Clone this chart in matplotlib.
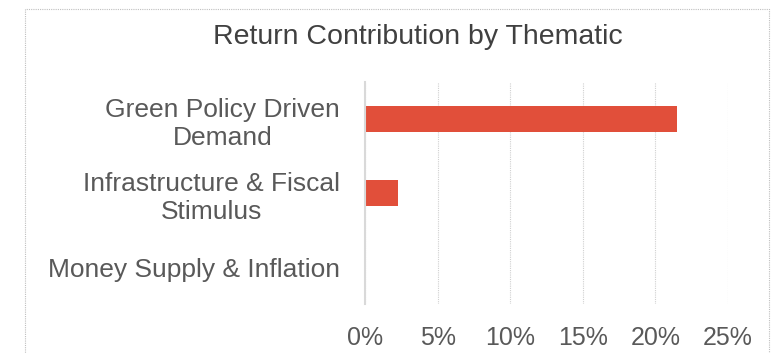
import matplotlib.pyplot as plt
from matplotlib.patches import Rectangle
from matplotlib.ticker import PercentFormatter

plt.rcParams['font.family'] = ['Liberation Sans', 'DejaVu Sans']

# thematic categories, top to bottom
themes = ["Green Policy Driven\nDemand", "Infrastructure & Fiscal\nStimulus", "Money Supply & Inflation"]
contribution = [0.215, 0.0227, 0.0005]
x_ticks = [0, 0.05, 0.10, 0.15, 0.20, 0.25]

text_grey = "#595959"
bar_red = "#E14F3A"

fig = plt.figure(figsize=(7.77, 3.53), dpi=100)
ax = fig.add_axes([365 / 777, 1 - 304 / 353, 363 / 777, 222 / 353])

# dotted chart frame like the spreadsheet chart area
fig.patches.append(Rectangle((25 / 777, -0.1), 744 / 777, 1.1 - 9 / 353, transform=fig.transFigure,
                             fill=False, edgecolor="#BFBFBF", linestyle=(0, (1, 1)), linewidth=0.8))

y = list(range(len(themes)))
ax.barh(y, contribution, height=0.35, color=bar_red, zorder=3)
ax.set_ylim(len(themes) - 0.5, -0.5)
ax.set_xlim(0, 0.25)
ax.set_xticks(x_ticks)
ax.xaxis.set_major_formatter(PercentFormatter(1.0, decimals=0))
ax.set_yticks(y)
ax.set_yticklabels(themes, multialignment="center", linespacing=1.25)

ax.grid(axis="x", color="#D0D0D0", linestyle=(0, (1, 1)), linewidth=0.8, zorder=0)
for s in ["top", "right", "bottom"]:
    ax.spines[s].set_visible(False)
ax.spines["left"].set_color("#D9D9D9")
ax.spines["left"].set_linewidth(1.5)
ax.spines["left"].set_zorder(4)

ax.tick_params(axis="x", length=0, pad=16, labelsize=18, labelcolor=text_grey)
ax.tick_params(axis="y", length=0, pad=18, labelsize=19, labelcolor=text_grey)

fig.text(418 / 777, 1 - 37 / 353, "Return Contribution by Thematic", ha="center", va="center",
         fontsize=20.5, color="#404040")

fig.savefig("out.png", dpi=100)
